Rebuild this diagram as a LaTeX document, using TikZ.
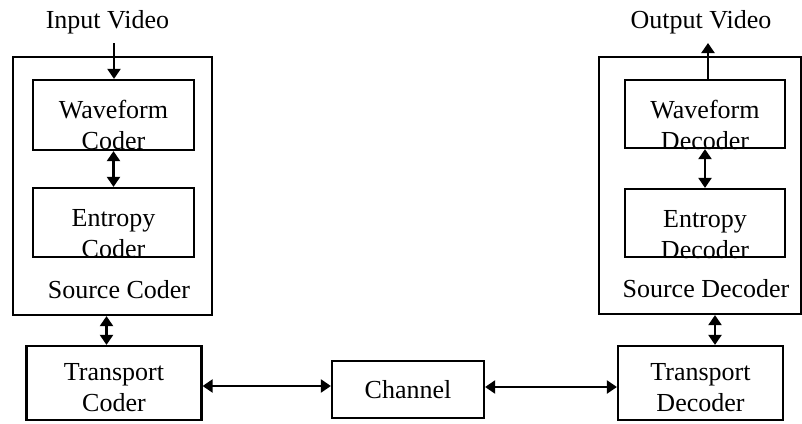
\documentclass[tikz,border=0pt]{standalone}
\usepackage{fontspec}
\setmainfont{Liberation Serif}
\usetikzlibrary{arrows.meta,positioning}

\tikzset{
  box/.style={draw, line width=2.2pt, inner sep=0pt},
  txt/.style={align=center, inner sep=0pt, font=\fontsize{26}{30.8}\selectfont},
  arr/.style={line width=2.2pt, {Triangle[length=10pt,width=13pt]}-{Triangle[length=10pt,width=13pt]}},
  arrone/.style={line width=2.2pt, -{Triangle[length=10pt,width=13pt]}},
}

\begin{document}
\begin{tikzpicture}[x=1pt, y=-1pt]
  \useasboundingbox (0,0) rectangle (802,423);
  % coder side
  \node[box, minimum width=199pt, minimum height=258pt] (src) at (112.5,186) {};
  \node[box, minimum width=161pt, minimum height=70pt] (wc) at (113.5,115) {};
  \node[box, minimum width=161pt, minimum height=69pt] (ec) at (113.5,222.5) {};
  \node[box, minimum width=175pt, minimum height=74pt] (tc) at (114,383) {};
  \node[txt, below=21pt of wc.north] (wcTxt) {Waveform\\Coder};
  \node[txt, below=22.5pt of ec.north] (ecTxt) {Entropy\\Coder};
  \node[txt, below=18.5pt of tc.north] (tcTxt) {Transport\\Coder};
  \node[txt, anchor=base] (srcTxt) at (119,298) {Source Coder};
  \node[txt, anchor=base] (inTxt) at (107.5,28) {Input Video};
  % channel
  \node[box, txt, minimum width=152pt, minimum height=57pt] (ch) at (408,389.5) {Channel};
  % decoder side
  \node[box, minimum width=202pt, minimum height=257pt] (sd) at (700,185.5) {};
  \node[box, minimum width=160pt, minimum height=68pt] (wd) at (705,114) {};
  \node[box, minimum width=160pt, minimum height=68pt] (ed) at (705,223) {};
  \node[box, minimum width=165pt, minimum height=74pt] (td) at (700.5,383) {};
  \node[txt, below=21pt of wd.north] (wdTxt) {Waveform\\Decoder};
  \node[txt, below=22.5pt of ed.north] (edTxt) {Entropy\\Decoder};
  \node[txt, below=18.5pt of td.north] (tdTxt) {Transport\\Decoder};
  \node[txt, anchor=base] (sdTxt) at (706,297) {Source Decoder};
  \node[txt, anchor=base] (outTxt) at (701,28) {Output Video};

  \coordinate (vin) at (114,43);
  \coordinate (vout) at (708,43);
  \draw[arrone] (vin) -- (vin |- wc.north);
  \draw[arr] (wc.south) -- (ec.north);
  \draw[arr] ([xshift=-6pt]src.south) -- ([xshift=-6pt]src.south |- tc.north);
  \draw[arr] ([yshift=-3pt]tc.east) -- ([yshift=-3pt]tc.east -| ch.west);
  \draw[arr] ([yshift=2.5pt]ch.east) -- ([yshift=2.5pt]ch.east -| td.west);
  \draw[arr] ([xshift=15pt]sd.south) -- ([xshift=15pt]sd.south |- td.north);
  \draw[arr] (wd.south) -- (ed.north);
  \draw[arrone] (vout |- wd.north) -- (vout);
\end{tikzpicture}
\end{document}
